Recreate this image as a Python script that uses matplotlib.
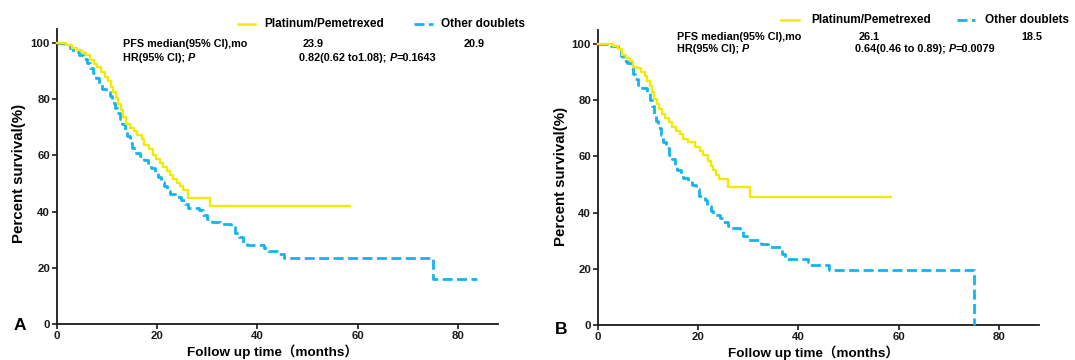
import matplotlib
matplotlib.use("Agg")
import matplotlib.pyplot as plt
from matplotlib.lines import Line2D

plt.rcParams['font.family'] = ['Liberation Sans', 'Noto Sans CJK SC', 'DejaVu Sans']
plt.rcParams['font.weight'] = 'bold'

# ---------------- data ----------------
series_names = ["Platinum/Pemetrexed", "Other doublets"]

a_plat_t = [0, 1.8, 3.0, 4.0, 5.0, 5.8, 6.5, 7.3, 8.0, 8.8, 9.5, 10.1, 10.7, 11.2, 11.7,
            12.2, 12.7, 13.2, 13.7, 14.5, 15.3, 16.0, 16.9, 17.3, 18.4, 19.2, 19.8, 20.5,
            21.2, 21.9, 22.5, 23.2, 24.0, 24.5, 25.2, 26.2, 30.5, 58.5]
a_plat_s = [100, 99.2, 98.4, 97.5, 96.6, 95.6, 94.1, 92.5, 91.3, 89.8, 88.0, 86.4, 84.5, 82.7,
            80.5, 78.3, 76.2, 73.6, 71.2, 69.8, 68.6, 67.2, 65.8, 63.6, 62.2, 60.0, 58.6, 57.2,
            56.0, 54.5, 53.0, 51.5, 50.3, 49.2, 47.7, 44.7, 42.0, 42.0]

a_other_t = [0, 1.5, 2.5, 3.2, 4.3, 5.2, 5.9, 6.6, 7.2, 7.8, 8.4, 9.0, 9.8, 10.6, 11.0, 11.5,
             12.0, 12.5, 13.0, 13.5, 14.0, 14.5, 15.0, 15.7, 16.6, 17.4, 18.2, 18.8, 19.6,
             20.2, 20.8, 21.4, 22.0, 22.6, 23.5, 24.7, 25.5, 26.2, 28.3, 29.2, 30.0, 31.0,
             32.5, 34.8, 35.5, 36.4, 37.1, 38.0, 41.4, 42.2, 44.3, 45.3, 75.0, 83.8]
a_other_s = [100, 99.3, 98.2, 96.9, 95.8, 94.5, 93.0, 91.2, 89.3, 87.4, 85.4, 83.6, 82.5, 81.0,
             78.8, 76.8, 75.0, 73.0, 71.2, 69.0, 66.8, 64.6, 62.8, 61.0, 59.8, 58.4, 57.2,
             55.6, 54.0, 52.3, 50.6, 49.0, 47.3, 46.2, 45.3, 44.2, 42.6, 41.3, 40.4, 38.8,
             37.3, 36.3, 35.5, 34.5, 32.4, 31.0, 29.0, 28.1, 26.9, 25.9, 24.9, 23.5, 15.9, 15.9]

b_plat_t = [0, 3.0, 4.0, 4.8, 5.6, 6.4, 7.0, 7.7, 8.6, 9.3, 9.8, 10.3, 10.8, 11.2, 11.7, 12.2,
            12.8, 13.4, 14.2, 14.8, 15.5, 16.3, 17.0, 18.0, 19.3, 20.3, 21.0, 22.0, 22.5,
            23.0, 23.6, 24.2, 25.9, 30.3, 58.4]
b_plat_s = [100, 99.3, 98.2, 96.2, 95.0, 93.9, 92.0, 91.3, 90.0, 88.5, 86.7, 84.9, 82.8, 80.6,
            78.8, 76.9, 75.0, 73.6, 72.2, 70.5, 69.2, 68.0, 66.3, 65.0, 63.5, 62.0, 60.5, 58.5,
            56.5, 55.0, 53.4, 52.0, 49.0, 45.6, 45.6]

b_other_t = [0, 2.5, 4.0, 4.6, 5.0, 5.7, 6.5, 7.0, 7.4, 8.0, 8.8, 9.7, 10.3, 10.8, 11.2, 11.6,
             12.0, 12.5, 13.0, 13.6, 14.2, 14.8, 15.3, 15.8, 16.5, 17.0, 18.0, 18.8, 19.5,
             20.2, 21.3, 21.8, 22.5, 23.0, 24.3, 25.0, 26.0, 26.6, 28.3, 29.0, 29.7, 32.6,
             33.9, 36.7, 37.3, 41.9, 42.3, 46.0, 75.0]
b_other_s = [100, 99.3, 98.6, 95.8, 94.0, 93.3, 91.8, 89.5, 87.5, 85.5, 84.2, 82.6, 80.2, 78.0,
             75.0, 72.5, 70.0, 67.5, 65.0, 63.0, 60.5, 59.0, 57.0, 55.2, 53.8, 52.4, 51.4,
             50.0, 48.4, 46.0, 44.4, 42.2, 40.6, 39.0, 38.0, 36.8, 35.4, 34.4, 33.5, 31.6,
             30.1, 29.0, 27.6, 25.4, 23.6, 22.5, 21.5, 19.6, 0]

x_ticks = [0, 20, 40, 60, 80]
y_ticks = [0, 20, 40, 60, 80, 100]

a_median = ["23.9", "20.9"]
a_hr = "0.82(0.62 to1.08); "
a_p = "=0.1643"
b_median = ["26.1", "18.5"]
b_hr = "0.64(0.46 to 0.89); "
b_p = "=0.0079"

# ---------------- styling ----------------
W, H = 1075, 360
YEL = "#F2EA00"
CYN = "#14B4F0"
DASH = (0, (3.6, 1.6))

fig = plt.figure(figsize=(W / 100, H / 100), dpi=100)
renderer = fig.canvas.get_renderer()


def fx(px):
    return px / W


def fy(py):
    return 1 - py / H


def rich(x, y, parts, size=7.8):
    """parts: list of (text, italic)"""
    cur = fx(x)
    for txt, it in parts:
        t = fig.text(cur, fy(y), txt, fontsize=size, fontweight='bold',
                     fontstyle='italic' if it else 'normal', ha='left', va='center')
        bb = t.get_window_extent(renderer=renderer)
        cur += bb.width / W


def make_axes(left_px, bottom_px, right_px, top_px):
    ax = fig.add_axes([fx(left_px), fy(bottom_px), (right_px - left_px) / W,
                       (bottom_px - top_px) / H])
    ax.set_xlim(0, 88)
    ax.set_ylim(0, 105)
    for s in ['top', 'right']:
        ax.spines[s].set_visible(False)
    for s in ['left', 'bottom']:
        ax.spines[s].set_linewidth(1.3)
        ax.spines[s].set_color('#1a1a1a')
    ax.set_xticks(x_ticks)
    ax.set_yticks(y_ticks)
    ax.tick_params(direction='out', length=3.5, width=1.2, labelsize=8.2, pad=1.5,
                   colors='#1a1a1a')
    for lab in ax.get_xticklabels() + ax.get_yticklabels():
        lab.set_fontweight('bold')
    return ax


axA = make_axes(57, 324, 498, 29)
axB = make_axes(598, 325, 1039, 30)

for ax, pt, ps, ot, os_ in [(axA, a_plat_t, a_plat_s, a_other_t, a_other_s),
                            (axB, b_plat_t, b_plat_s, b_other_t, b_other_s)]:
    ax.step(ot, os_, where='post', color=CYN, lw=2.0, linestyle=DASH,
            clip_on=False, zorder=3)
    ax.step(pt, ps, where='post', color=YEL, lw=1.7, clip_on=False, zorder=4)

# axis labels
fig.text(fx(19), fy(173), "Percent survival(%)", rotation=90, ha='center', va='center',
         fontsize=10.8, fontweight='bold')
fig.text(fx(561), fy(176), "Percent survival(%)", rotation=90, ha='center', va='center',
         fontsize=10.8, fontweight='bold')
fig.text(fx(272), fy(352), "Follow up time\uff08months\uff09", ha='center', va='center',
         fontsize=9.7, fontweight='bold')
fig.text(fx(813), fy(353), "Follow up time\uff08months\uff09", ha='center', va='center',
         fontsize=9.7, fontweight='bold')

# panel letters
fig.text(fx(19.5), fy(325), "A", ha='center', va='center', fontsize=12.5, fontweight='bold')
fig.text(fx(561), fy(329), "B", ha='center', va='center', fontsize=12.5, fontweight='bold')


# legends
def legend(y, l1, t1, l2, t2):
    fig.add_artist(Line2D([fx(l1[0]), fx(l1[1])], [fy(y), fy(y)], color=YEL, lw=1.8,
                          transform=fig.transFigure))
    fig.text(fx(t1), fy(y), series_names[0], ha='left', va='center', fontsize=8.5,
             fontweight='bold')
    fig.add_artist(Line2D([fx(l2[0]), fx(l2[1])], [fy(y), fy(y)], color=CYN, lw=2.0,
                          linestyle=DASH, transform=fig.transFigure))
    fig.text(fx(t2), fy(y), series_names[1], ha='left', va='center', fontsize=8.5,
             fontweight='bold')


legend(24, (238, 255), 264, (414, 433), 441)
legend(20, (781, 799), 811, (957, 975), 985)

# annotations panel A
rich(123, 44, [("PFS median(95% CI),mo", False)])
rich(303, 44, [(a_median[0], False)])
rich(464, 44, [(a_median[1], False)])
rich(123, 58, [("HR(95% CI); ", False), ("P", True)])
rich(299, 58, [(a_hr, False), ("P", True), (a_p, False)])

# annotations panel B
rich(677, 37, [("PFS median(95% CI),mo", False)])
rich(859, 37, [(b_median[0], False)])
rich(1021, 37, [(b_median[1], False)])
rich(677, 48.5, [("HR(95% CI); ", False), ("P", True)])
rich(855, 48.5, [(b_hr, False), ("P", True), (b_p, False)])

fig.savefig("out.png", dpi=100)
